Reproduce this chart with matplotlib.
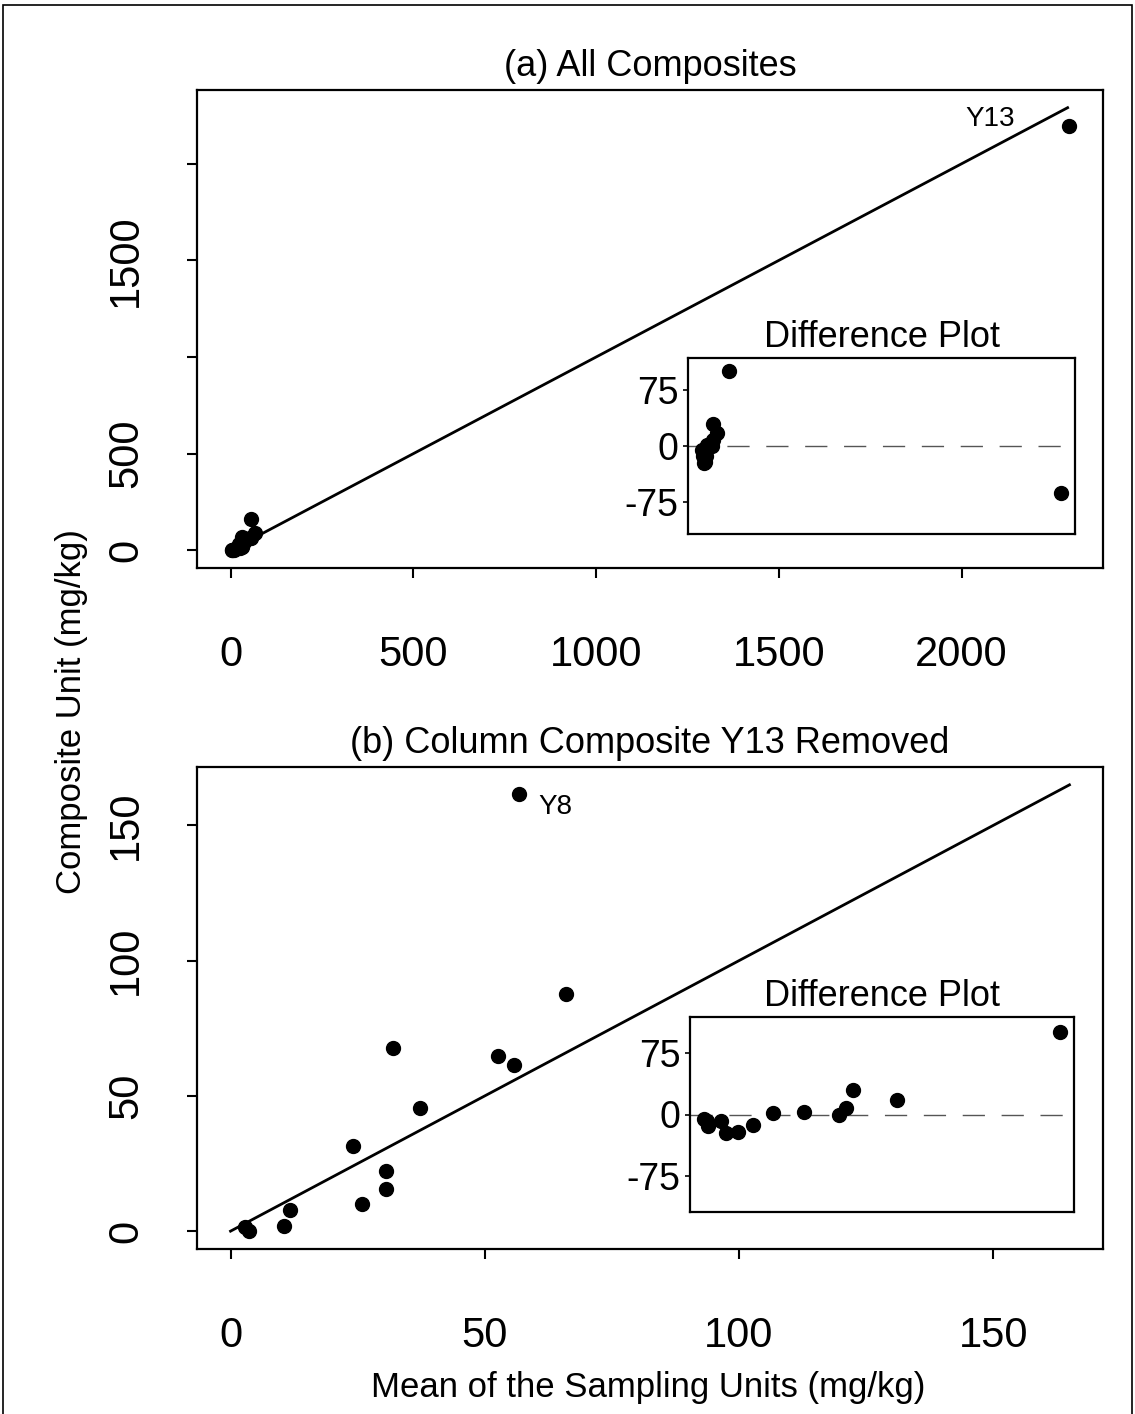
import matplotlib
matplotlib.use("Agg")
import matplotlib.pyplot as plt
from matplotlib.patches import Rectangle

plt.rcParams['font.family'] = ['Liberation Sans', 'DejaVu Sans']
plt.rcParams['axes.unicode_minus'] = False

# mean of sampling units vs composite unit (mg/kg), Y13 removed
mean_units = [56.8, 66.0, 31.9, 52.7, 55.8, 37.3, 24.0, 30.6, 30.6, 25.8, 11.7, 10.6, 2.8, 3.7]
composite = [161.6, 87.5, 67.8, 64.6, 61.4, 45.4, 31.4, 22.2, 15.5, 9.9, 7.7, 2.0, 1.4, 0.1]
# difference plot values, same order
diff = [100, 17, 30, 8, 0, 2.8, 2, -12.9, -21, -22.2, -8.1, -14, -8, -6]

# column composite Y13
y13_mean = 2295
y13_comp = 2197
y13_diff = -62.5

# end of the 1:1 reference line in each panel
ref_end_a = 2290
ref_end_b = 165

mean_all = mean_units + [y13_mean]
comp_all = composite + [y13_comp]
diff_all = diff + [y13_diff]

W, H = 1135, 1414
fig = plt.figure(figsize=(W / 100, H / 100), dpi=100)


def box(l, t, r, b):
    return [l / W, 1 - b / H, (r - l) / W, (b - t) / H]


def main_panel(rect, x, y, ref_end, title, xticks, yticks, ylabels):
    ax = fig.add_axes(rect)
    ax.plot([0, ref_end], [0, ref_end], color='black', lw=2)
    ax.plot(x, y, 'o', color='black', ms=10)
    ax.margins(0.04)
    ax.set_xticks(xticks)
    ax.set_yticks(yticks)
    ax.set_yticklabels(ylabels)
    ax.tick_params(axis='both', direction='out', length=7.5, width=1.5, labelsize=30)
    ax.tick_params(axis='x', pad=41)
    ax.tick_params(axis='y', pad=29, labelrotation=90)
    for lab in ax.get_yticklabels():
        lab.set_va('center')
    for s in ax.spines.values():
        s.set_linewidth(1.6)
    ax.set_title(title, fontsize=26, pad=10)
    return ax


def diff_inset(rect, x, d):
    ax = fig.add_axes(rect)
    ax.axhline(0, color='#555555', lw=1, ls=(0, (16, 12)))
    ax.plot(x, d, 'o', color='black', ms=10)
    ax.margins(x=0.04)
    ax.set_ylim(-118, 118)
    ax.set_xticks([])
    ax.set_yticks([-75, 0, 75])
    ax.tick_params(axis='y', direction='out', length=3.6, width=1.2, labelsize=27, pad=3)
    for s in ax.spines.values():
        s.set_linewidth(1.6)
    ax.set_title('Difference Plot', fontsize=26, pad=8)
    return ax


ax_a = main_panel(box(197, 90, 1103, 568), mean_all, comp_all, ref_end_a,
                  '(a) All Composites', [0, 500, 1000, 1500, 2000],
                  [0, 500, 1000, 1500, 2000], ['0', '500', '', '1500', ''])
ax_a.annotate('Y13', (y13_mean, y13_comp), xytext=(-57, 5), textcoords='offset points',
              ha='center', va='center', fontsize=20)

ax_b = main_panel(box(197, 767, 1103, 1249), mean_units, composite, ref_end_b,
                  '(b) Column Composite Y13 Removed', [0, 50, 100, 150],
                  [0, 50, 100, 150], ['0', '50', '100', '150'])
ax_b.annotate('Y8', (mean_units[0], composite[0]), xytext=(26, -9.5), textcoords='offset points',
              ha='center', va='center', fontsize=20)

diff_inset(box(688, 358, 1075, 534), comp_all, diff_all)
diff_inset(box(690, 1017, 1074, 1212), composite, diff)

fig.text(72 / W, 1 - 712 / H, 'Composite Unit (mg/kg)', rotation=90,
         ha='center', va='center', fontsize=25)
fig.text(648 / W, 1 - 1387 / H, 'Mean of the Sampling Units (mg/kg)',
         ha='center', va='center', fontsize=25)

# outer frame (bottom edge falls outside the picture)
fig.patches.append(Rectangle((3 / W, -0.01), 1129 / W, 1.01 - 5 / H, transform=fig.transFigure,
                             fill=False, edgecolor='black', lw=1.2))

fig.savefig('out.png', dpi=100)
